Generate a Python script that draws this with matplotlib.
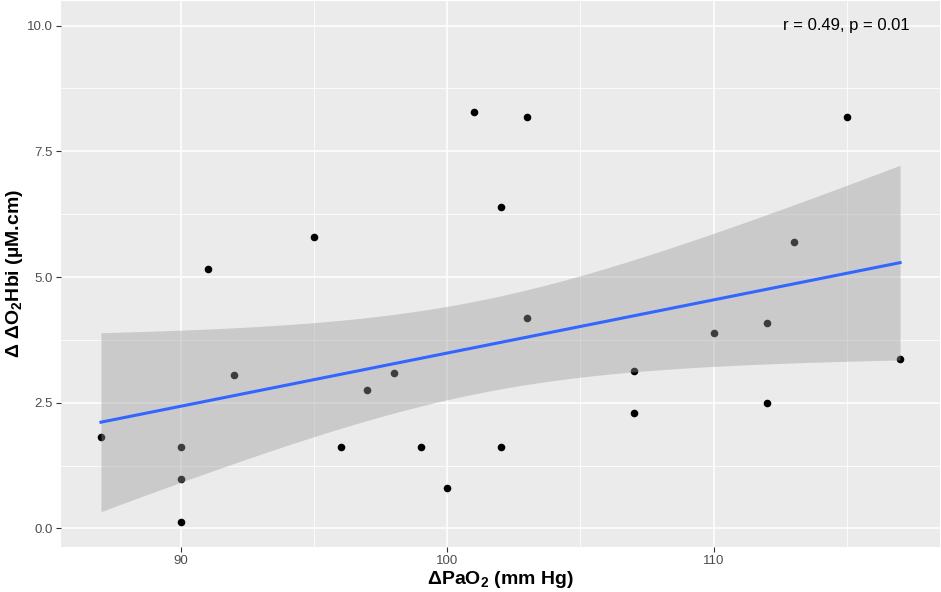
import numpy as np
import matplotlib
matplotlib.use('Agg')
import matplotlib.pyplot as plt

plt.rcParams['font.family'] = ['Liberation Sans', 'DejaVu Sans']
plt.rcParams['mathtext.fontset'] = 'custom'
plt.rcParams['mathtext.rm'] = 'Liberation Sans'
plt.rcParams['mathtext.bf'] = 'Liberation Sans:bold'

# data
pao2 = np.array([87, 90, 90, 90, 91, 92, 95, 96, 97, 98, 99, 100, 101,
                 102, 102, 103, 103, 107, 107, 110, 112, 112, 113, 115, 117])
o2hbi = np.array([1.81, 1.61, 0.99, 0.12, 5.16, 3.06, 5.79, 1.61, 2.76, 3.10, 1.61, 0.81, 8.29,
                  6.39, 1.61, 8.19, 4.19, 3.13, 2.30, 3.89, 4.09, 2.50, 5.69, 8.19, 3.37])
annot = 'r = 0.49, p = 0.01'

# linear fit + 95% CI (like geom_smooth(method='lm'))
n = len(pao2)
slope, icpt = np.polyfit(pao2, o2hbi, 1)
xs = np.linspace(pao2.min(), pao2.max(), 80)
ys = icpt + slope * xs
resid = o2hbi - (icpt + slope * pao2)
s = np.sqrt(np.sum(resid ** 2) / (n - 2))
sxx = np.sum((pao2 - pao2.mean()) ** 2)
se = s * np.sqrt(1 / n + (xs - pao2.mean()) ** 2 / sxx)
tq = 2.0687  # t(0.975, df=23)

fig = plt.figure(figsize=(9.41, 5.92), dpi=100)
ax = fig.add_axes([61 / 941, 45 / 592, 879 / 941, 546 / 592])
ax.set_facecolor('#EBEBEB')
for sp in ax.spines.values():
    sp.set_visible(False)

ax.scatter(pao2, o2hbi, s=30, color='black', zorder=2, linewidths=0)
ax.fill_between(xs, ys - tq * se, ys + tq * se, color='#999999', alpha=0.4, lw=0, zorder=3)
ax.plot(xs, ys, color='#3366FF', lw=2.2, zorder=4)
ax.text(115, 10, annot, ha='center', va='center', fontsize=12, color='black', zorder=5)

ax.set_xticks([90, 100, 110])
ax.set_xticks([85, 95, 105, 115], minor=True)
ax.set_yticks([0, 2.5, 5, 7.5, 10])
ax.set_yticklabels(['0.0', '2.5', '5.0', '7.5', '10.0'])
ax.set_yticks([1.25, 3.75, 6.25, 8.75], minor=True)
# limits after ticks, so the minor ticks do not widen them
ax.set_xlim(85.5, 118.5)
ax.set_ylim(-0.37, 10.49)
ax.grid(which='major', color='white', lw=1.1, zorder=0)
ax.grid(which='minor', color='white', lw=0.55, zorder=0)
ax.set_axisbelow(True)
ax.tick_params(which='major', length=3.5, width=0.8, color='#333333', labelsize=9.5,
               labelcolor='#4D4D4D', pad=2.5)
ax.tick_params(which='minor', length=0)

ax.set_xlabel(r'ΔPaO$_\mathbf{2}$ (mm Hg)', fontsize=14, fontweight='bold', labelpad=1)
ax.set_ylabel(r'Δ ΔO$_\mathbf{2}$Hbi (µM.cm)', fontsize=14, fontweight='bold', labelpad=1.5)

fig.savefig('out.png', dpi=100)
